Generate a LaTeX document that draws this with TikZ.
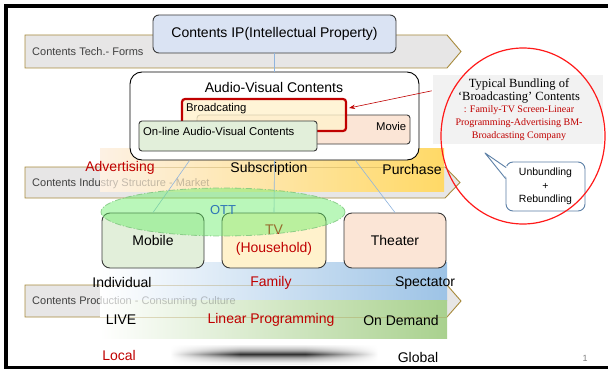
\documentclass[tikz,border=0pt]{standalone}
\usepackage{fontspec}
\setmainfont{Liberation Sans}
\newfontfamily\calloutserif{Liberation Serif}
\usetikzlibrary{calc,shapes.geometric,arrows.meta}

\definecolor{bandfill}{HTML}{E7E6E6}
\definecolor{bandline}{HTML}{A88B3D}
\definecolor{bandtext}{HTML}{404040}
\definecolor{ipfill}{HTML}{DAE3F3}
\definecolor{boxline}{HTML}{3A3A3A}
\definecolor{softyellow}{HTML}{FFF2CC}
\definecolor{peach}{HTML}{FBE5D6}
\definecolor{palegreen}{HTML}{E2EFDA}
\definecolor{calred}{HTML}{C00000}
\definecolor{linkblue}{HTML}{8FB4DE}
\definecolor{gold}{HTML}{FFD966}
\definecolor{goldstart}{HTML}{FDF1E4}
\definecolor{skyblue}{HTML}{9DC3E6}
\definecolor{leafgreen}{HTML}{A9D18E}
\definecolor{ottfill}{HTML}{66EE66}
\definecolor{ottline}{HTML}{7CC47C}
\definecolor{ottblue}{HTML}{2E75B6}
\definecolor{calloutgray}{HTML}{F2F2F2}
\definecolor{bubbleline}{HTML}{5B7FA6}
\definecolor{ringred}{HTML}{FF1A1A}

\begin{document}
\begin{tikzpicture}[x=1pt,y=-1pt,
  band/.style={fill=bandfill, draw=bandline, line width=0.9},
  bandlbl/.style={anchor=west, font=\fontsize{11}{13}\selectfont, text=bandtext, inner sep=0},
  rbox/.style={draw=boxline, line width=0.9, rounded corners=3, inner sep=0},
  dev/.style={draw=boxline, line width=0.9, rounded corners=8, minimum width=102, minimum height=55, inner sep=0, font=\fontsize{14}{18}\selectfont, align=center},
  lbl/.style={font=\fontsize{14}{16}\selectfont, inner sep=0},
  small/.style={font=\fontsize{11.3}{13}\selectfont, inner sep=0},
  link/.style={draw=linkblue, line width=0.6},
  ghost/.style={opacity=0.3},
]
\useasboundingbox (0,0) rectangle (608,369);
\clip (0,0) rectangle (608,369);
\fill[white] (0,0) rectangle (608,369);

% three chevron bands
\draw[band] (25,35) -- (447,35) -- (461,51.5) -- (447,68) -- (25,68) -- cycle;
\draw[band] (25,167) -- (445,167) -- (460,182.5) -- (445,198) -- (25,198) -- cycle;
\draw[band] (25,285) -- (447,285) -- (461,301) -- (447,317) -- (25,317) -- cycle;
\node[bandlbl] (forms) at (32,52) {Contents Tech.- Forms};
\node[bandlbl] (market) at (32,184) {Contents Industry Structure - Market};
\node[bandlbl] (culture) at (32,302) {Contents Production - Consuming Culture};

% gradient panels over the bands
\fill[left color=goldstart, right color=gold] (100,148) rectangle (444,191);
\fill[left color=white, right color=skyblue] (100,262) rectangle (447,300);
\fill[left color=white, right color=leafgreen] (100,300) rectangle (447,338);

% the covered parts of the bands show faintly through the panels
\begin{scope}
  \clip (100,148) rectangle (444,191);
  \draw[bandline, line width=0.9, ghost] (25,167) -- (445,167);
  \node[bandlbl, ghost] (marketghost) at (32,184) {Contents Industry Structure - Market};
\end{scope}
\begin{scope}
  \clip (100,262) rectangle (447,338);
  \draw[bandline, line width=0.9, ghost] (447,285) -- (25,285) (25,317) -- (447,317);
  \node[bandlbl, ghost] (cultureghost) at (32,302) {Contents Production - Consuming Culture};
\end{scope}

% contents IP and audio-visual contents
\node[draw=boxline, line width=0.9, rounded corners=6, fill=ipfill, minimum width=243, minimum height=38, inner sep=0, font=\fontsize{14}{16}\selectfont] (ip) at (274.5,34) {Contents IP(Intellectual Property)};
\node[draw=black, line width=0.9, rounded corners=12, fill=white, minimum width=289, minimum height=88, inner sep=0] (av) at (274.5,116) {};
\draw[link] (ip.south) -- (av.north);
\node[lbl] (avtitle) at (274,87) {Audio-Visual Contents};

\node[rbox, fill=peach, minimum width=213, minimum height=29] (movie) at (303.5,129.5) {};
\node[small, anchor=east] (movietxt) at ($(movie.east)+(-4,-3.5)$) {Movie};
\node[rbox, draw=calred, line width=2.2, fill=softyellow, fill opacity=0.8, minimum width=164, minimum height=32] (bc) at (264,115) {};
\node[small, anchor=west] (bctxt) at (186,109) {Broadcating};
\node[rbox, fill=palegreen, minimum width=178, minimum height=30] (online) at (228,136) {};
\node[small, anchor=west] (onlinetxt) at (143,131.5) {On-line Audio-Visual Contents};

% screens and their links
\node[dev, fill=palegreen] (mobile) at (153,240.5) {Mobile};
\node[dev, fill=softyellow, minimum width=104, text=calred] (tv) at (274,240.5) {TV\\(Household)};
\node[dev, fill=peach] (theater) at (395,240.5) {Theater};
\draw[link] ($(av.south west)+(60,0)$) -- (mobile.north);
\draw[link] (av.south) -- (tv.north);
\draw[link] ($(av.south east)+(-64,0)$) -- (theater.north);

% OTT ellipse
\node[ellipse, fill=ottfill, fill opacity=0.45, draw=ottline, draw opacity=0.8, line width=0.8,
      dash pattern=on 6pt off 2pt on 1pt off 2pt, minimum width=244, minimum height=48, inner sep=0] (ott) at (223,212) {};
\node[font=\fontsize{13}{15}\selectfont, text=ottblue, inner sep=0] (otttxt) at (223,210.5) {OTT};

% market labels
\node[lbl, text=calred] (adv) at (120,168) {Advertising};
\node[lbl] (subs) at (269,169) {Subscription};
\node[lbl] (purch) at (412,169) {Purchase};

% culture labels
\node[lbl] (indiv) at (122,282) {Individual};
\node[lbl, text=calred] (family) at (271,283) {Family};
\node[lbl] (spect) at (425,283) {Spectator};
\node[lbl] (live) at (121,320) {LIVE};
\node[lbl, text=calred] (linear) at (271,320) {Linear Programming};
\node[lbl] (ondemand) at (401,320) {On Demand};

% local - global scale: a soft streak, darkest along its middle line
\foreach \dy/\k in {-9/5,-8/9,-7/14,-6/19,-5/25,-4/32,-3/42,-2/55,-1/68,0/80,1/68,2/55,3/42,4/32,5/25,6/19,7/14,8/9,9/5} {
  \colorlet{rowc}{black!\k}
  \fill[left color=white, right color=rowc] (170,{355+\dy-0.6}) rectangle (241,{355+\dy+0.6});
  \fill[rowc] (240,{355+\dy-0.6}) rectangle (306,{355+\dy+0.6});
  \fill[left color=rowc, right color=white] (305,{355+\dy-0.6}) rectangle (378,{355+\dy+0.6});
}
\node[lbl, text=calred] (local) at (119,355) {Local};
\node[lbl] (global) at (418,357) {Global};
\node[font=\fontsize{9}{10}\selectfont, text=gray, inner sep=0] (pagenum) at (585,358) {1};

% bundling callout
\node[fill=calloutgray, minimum width=170, minimum height=69, inner sep=0] (cbox) at (518,109.5) {};
\node[align=center, inner sep=0, font=\calloutserif\fontsize{12.5}{12.7}\selectfont] (ctext) at (519,109.5)
  {Typical Bundling of\\‘Broadcasting’ Contents\\
   {\color{calred}\fontsize{10}{12.7}\selectfont : Family-TV Screen-Linear}\\
   {\color{calred}\fontsize{10}{12.7}\selectfont Programming-Advertising BM-}\\
   {\color{calred}\fontsize{10}{12.7}\selectfont Broadcasting Company}};
\draw[calred, line width=0.6, -{Stealth[length=6,width=4.5]}] ($(cbox.north west)+(-1,16)$) -- ($(bc.east)+(2,-7)$);

% unbundling speech bubble
\node[draw=bubbleline, line width=0.9, rounded corners=7, fill=white, minimum width=79, minimum height=49, inner sep=0,
      align=center, font=\fontsize{10.5}{13.5}\selectfont] (ub) at (545.5,186.5) {Unbundling\\+\\Rebundling};
\coordinate (ubtip) at (485,153);
\fill[white] ($(ub.north west)+(2.5,5.5)$) -- (ubtip) -- ($(ub.north west)+(2.5,17.5)$) -- cycle;
\draw[bubbleline, line width=0.9, line join=round] ($(ub.north west)+(0.6,6)$) -- (ubtip) -- ($(ub.north west)+(0,17)$);

\node[ellipse, draw=ringred, line width=1.2, minimum width=164, minimum height=176, inner sep=0] (ring) at (523,136) {};

% slide frame
\draw[black, line width=4] (6,5.6) rectangle (640,367.5);
\end{tikzpicture}
\end{document}
